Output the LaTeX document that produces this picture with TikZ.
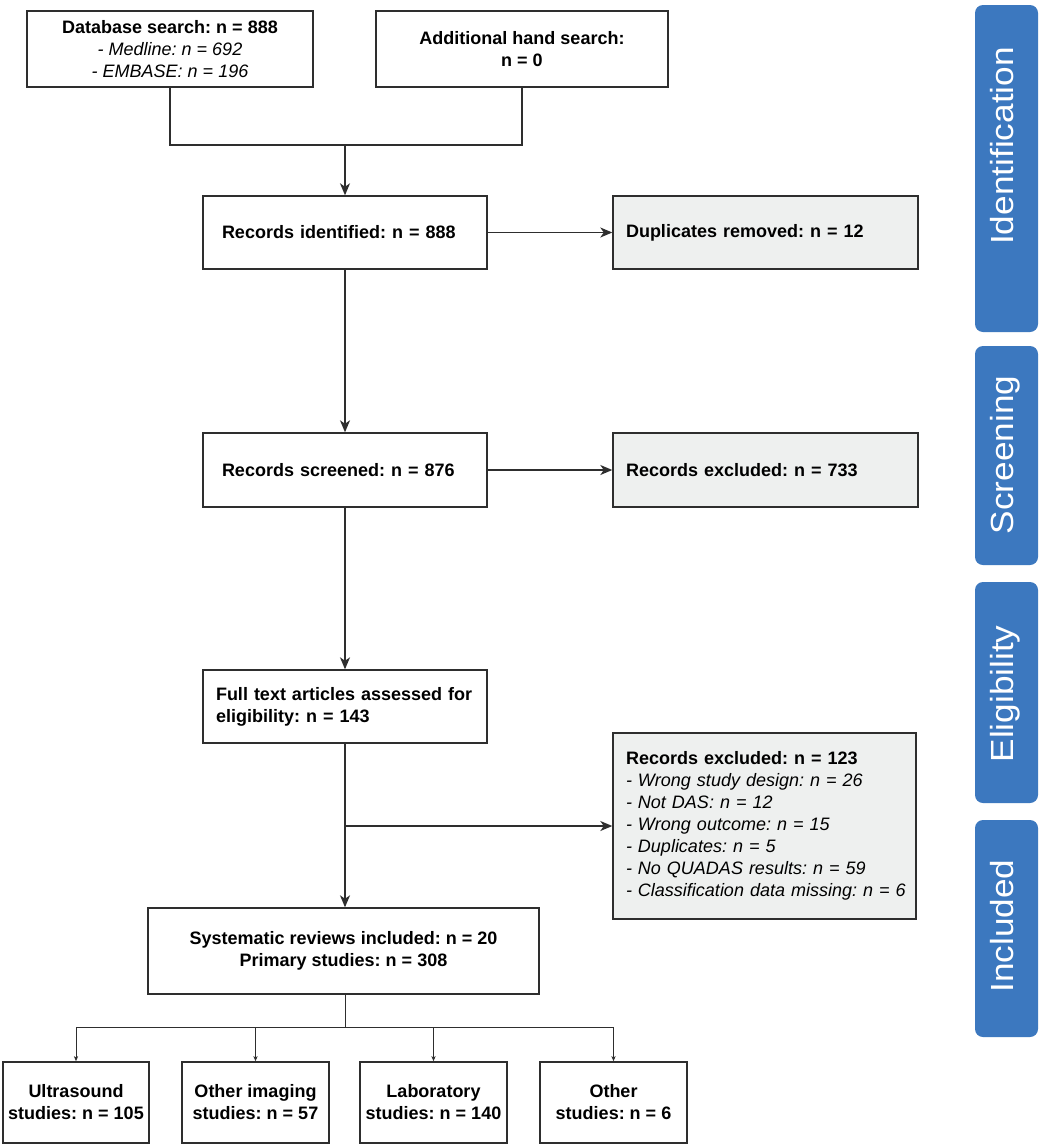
\documentclass[tikz,border=0pt]{standalone}
\usepackage{fontspec}
\setmainfont{Liberation Sans}
\usetikzlibrary{arrows.meta}
\definecolor{linec}{HTML}{2E2E2E}
\definecolor{grayfill}{HTML}{EEF0EF}
\definecolor{tabblue}{HTML}{3C78BF}
\newcommand\itl[1]{{\mdseries\itshape #1}}
\frenchspacing
\begin{document}
\begin{tikzpicture}[x=1pt,y=-1pt,
  box/.style={draw=linec, line width=1.4pt, fill=white, inner sep=0pt,
    font=\fontsize{18}{22}\selectfont\bfseries\frenchspacing, align=center},
  lbox/.style={box, align=left},
  gbox/.style={lbox, fill=grayfill},
  arr/.style={draw=linec, line width=1.4pt, -{Stealth[length=12pt,width=10pt,inset=3.5pt]}},
  sarr/.style={draw=linec, line width=1pt, -{Stealth[length=5pt,width=4pt,inset=1pt]}},
  conn/.style={draw=linec, line width=1.4pt},
  tconn/.style={draw=linec, line width=1pt},
  tabbox/.style={fill=tabblue, rounded corners=8pt, draw=none, inner sep=0pt, minimum width=63pt},
  tabtext/.style={text=white, rotate=90, anchor=base, inner sep=0pt,
    font=\fontsize{32}{32}\selectfont}
]
\fill[white] (0,0) rectangle (1040,1146);
\useasboundingbox (0,0) rectangle (1040,1146);

% top boxes
\node[box, minimum width=286pt, minimum height=76pt] (db) at (170,49)
  {Database search: n = 888\\ \itl{- Medline: n = 692}\\ \itl{- EMBASE: n = 196}};
\node[box, minimum width=292pt, minimum height=76pt] (hand) at (522,49)
  {Additional hand search:\\ n = 0};

% main column
\node[lbox, inner xsep=19pt, text width=246pt, minimum height=73pt] (ident) at (345,232.5)
  {Records identified: n = 888};
\node[lbox, inner xsep=19pt, text width=246pt, minimum height=74pt] (screen) at (345,470)
  {Records screened: n = 876};
\node[lbox, inner xsep=13pt, text width=258pt, minimum height=73pt] (full) at (345,706.5)
  {Full text articles assessed for\\ eligibility: n = 143};
\node[box, minimum width=391pt, minimum height=86pt] (incl) at (343.5,951)
  {Systematic reviews included: n = 20\\ Primary studies: n = 308};

% side boxes
\node[gbox, inner xsep=13pt, text width=279pt, minimum height=73pt] (dup) at (765.5,232.5)
  {Duplicates removed: n = 12};
\node[gbox, inner xsep=13pt, text width=279pt, minimum height=74pt] (excl1) at (765.5,470)
  {Records excluded: n = 733};
\node[gbox, inner xsep=13pt, text width=277pt, minimum height=186pt] (excl2) at (764.5,826)
  {Records excluded: n = 123\\
   \itl{- Wrong study design: n = 26}\\
   \itl{- Not DAS: n = 12}\\
   \itl{- Wrong outcome: n = 15}\\
   \itl{- Duplicates: n = 5}\\
   \itl{- No QUADAS results: n = 59}\\
   \itl{\mbox{- Classification data missing: n = 6}}};

% bottom boxes
\node[box, minimum width=146pt, minimum height=81pt] (ba) at (76,1102.5)
  {Ultrasound\\ studies: n = 105};
\node[box, minimum width=147pt, minimum height=81pt] (bb) at (255.5,1102.5)
  {Other imaging\\ studies: n = 57};
\node[box, minimum width=147pt, minimum height=81pt] (bc) at (433.5,1102.5)
  {Laboratory\\ studies: n = 140};
\node[box, minimum width=147pt, minimum height=81pt] (bd) at (613.5,1102.5)
  {Other\\ studies: n = 6};

% connectors
\coordinate (j1) at (345,145);
\draw[conn] (db.south) |- (j1) -| (hand.south);
\draw[arr] (j1) -- (ident.north);
\draw[arr] (ident) -- (dup);
\draw[arr] (ident) -- (screen);
\draw[arr] (screen) -- (excl1);
\draw[arr] (screen) -- (full);
\draw[arr] (full.south) -- (full.south |- incl.north);
\coordinate (j2) at (345,826);
\draw[arr] (j2) -- (excl2.west);
\coordinate (j3) at (345,1027);
\draw[tconn] (j3 |- incl.south) -- (j3);
\draw[tconn] (ba.north |- j3) -- (bd.north |- j3);
\draw[sarr] (ba.north |- j3) -- (ba.north);
\draw[sarr] (bb.north |- j3) -- (bb.north);
\draw[sarr] (bc.north |- j3) -- (bc.north);
\draw[sarr] (bd.north |- j3) -- (bd.north);

% phase tabs
\node[tabbox, minimum height=327pt] (t1) at (1006.5,168.5) {};
\node[tabbox, minimum height=219pt] (t2) at (1006.5,455.5) {};
\node[tabbox, minimum height=221pt] (t3) at (1006.5,692.5) {};
\node[tabbox, minimum height=217pt] (t4) at (1006.5,928.5) {};
\node[tabtext] (t1l) at (1013,146) {\scalebox{1.1}[1]{Identification}};
\node[tabtext] (t2l) at (1013,455) {\scalebox{1.1}[1]{Screening}};
\node[tabtext] (t3l) at (1013,694) {\scalebox{1.1}[1]{Eligibility}};
\node[tabtext] (t4l) at (1013,926) {\scalebox{1.1}[1]{Included}};
\end{tikzpicture}
\end{document}
